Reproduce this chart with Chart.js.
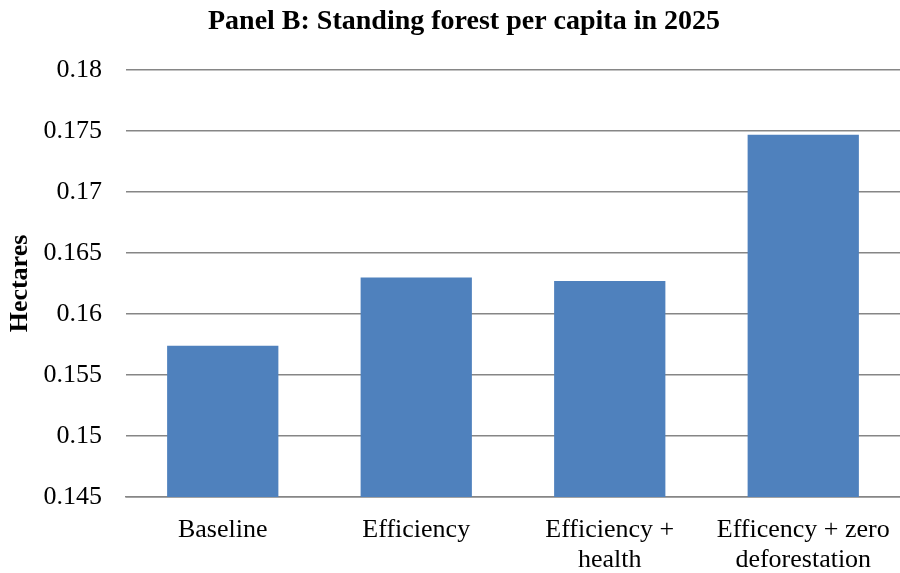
<!DOCTYPE html>
<html><head><meta charset="utf-8">
<script src="https://cdn.jsdelivr.net/npm/chart.js@4"></script>
<style>html,body{margin:0;padding:0;background:#fff}#w{width:900px;height:573px}</style>
</head><body><div id="w"><canvas id="c" width="900" height="573"></canvas></div>
<script>
const categories = [["Baseline"], ["Efficiency"], ["Efficiency +", "health"], ["Efficency + zero", "deforestation"]];
const values = [0.1574, 0.1630, 0.1627, 0.1747];
const yTicks = [0.145, 0.15, 0.155, 0.16, 0.165, 0.17, 0.175, 0.18];
const titleText = "Panel B: Standing forest per capita in 2025";
const yTitle = "Hectares";

const titlePlugin = {
  id: 'tp',
  afterDraw(chart) {
    const ctx = chart.ctx;
    ctx.save();
    ctx.font = 'bold 28px "Liberation Serif"';
    ctx.fillStyle = '#000';
    ctx.textAlign = 'center';
    ctx.textBaseline = 'middle';
    ctx.fillText(titleText, 464, 22);
    ctx.restore();
  }
};

new Chart(document.getElementById('c'), {
  type: 'bar',
  data: { labels: categories, datasets: [{ data: values, backgroundColor: '#4f81bd', categoryPercentage: 0.575, barPercentage: 1 }] },
  options: {
    responsive: false, animation: false, devicePixelRatio: 1,
    layout: { padding: { top: 70, right: -2, left: 0, bottom: 0 } },
    plugins: { legend: { display: false }, tooltip: { enabled: false } },
    scales: {
      x: {
        grid: { display: false, drawTicks: false },
        border: { display: true, color: '#868686', width: 1.5 },
        ticks: { color: '#000', font: { family: '"Liberation Serif"', size: 26, lineHeight: 1.15 }, padding: 18, maxRotation: 0, autoSkip: false },
        afterFit(s) { s.height = 76; s.paddingLeft = 0; s.paddingRight = 0; }
      },
      y: {
        min: 0.145, max: 0.18,
        afterBuildTicks(s) { s.ticks = yTicks.map(v => ({ value: v })); },
        grid: { color: '#868686', lineWidth: 1.5, drawTicks: false },
        border: { display: false },
        ticks: { color: '#000', font: { family: '"Liberation Serif"', size: 26 }, padding: 24,
          callback: v => String(+v.toFixed(3)) },
        title: { display: true, text: yTitle, color: '#000', font: { family: '"Liberation Serif"', size: 26, weight: 'bold' }, padding: { top: 5, bottom: 0 } },
        afterFit(s) { s.width = 126; s.paddingTop = 0; s.paddingBottom = 0; }
      }
    }
  },
  plugins: [titlePlugin]
});
</script></body></html>
